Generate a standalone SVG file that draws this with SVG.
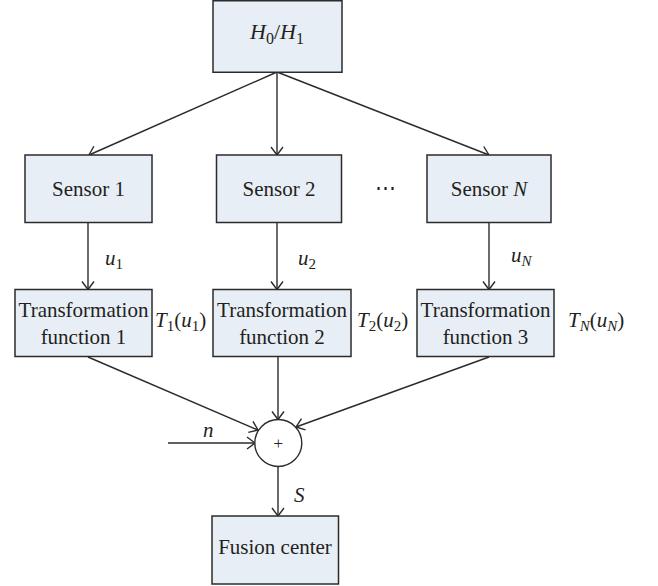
<svg xmlns="http://www.w3.org/2000/svg" width="658" height="586" viewBox="0 0 658 586" font-family="'Liberation Serif', 'Times New Roman', serif">
<defs>
<style>
.box{fill:#e8eef6;stroke:#2b2b2b;stroke-width:1.5}
.ln{fill:none;stroke:#2b2b2b;stroke-width:1.4;marker-end:url(#ah)}
text{font-family:'Liberation Serif','Times New Roman',serif;font-size:21px;fill:#231f20}
.it{font-style:italic}
.sub{font-size:15px;font-style:normal}
.subi{font-size:15px;font-style:italic}
.c{text-anchor:middle}
</style>
<marker id="ah" viewBox="0 0 10 14" refX="9" refY="7" markerWidth="10" markerHeight="14" markerUnits="userSpaceOnUse" orient="auto">
<path d="M1,1 L9,7 L1,13" fill="none" stroke="#2b2b2b" stroke-width="1.4"/>
</marker>
</defs>
<rect width="658" height="586" fill="#ffffff"/>
<g id="connectors">
<line class="ln" x1="277" y1="72" x2="89" y2="155"/>
<line class="ln" x1="277" y1="72" x2="277" y2="155"/>
<line class="ln" x1="277" y1="72" x2="489" y2="155"/>
<line class="ln" x1="88" y1="222" x2="88" y2="289.5"/>
<line class="ln" x1="277" y1="222" x2="277" y2="289.5"/>
<line class="ln" x1="489" y1="222" x2="489" y2="289.5"/>
<line class="ln" x1="88" y1="357" x2="258" y2="430"/>
<line class="ln" x1="278" y1="357" x2="278" y2="419.5"/>
<line class="ln" x1="489" y1="357" x2="296" y2="427"/>
<line class="ln" x1="168" y1="443" x2="255" y2="443"/>
<line class="ln" x1="278" y1="466.5" x2="278" y2="516"/>
</g>
<g id="hyp">
<rect class="box" x="213" y="0.75" width="129" height="71.5"/>
<text x="250" y="39" style="font-size:22px"><tspan class="it">H</tspan><tspan class="sub" style="font-size:16px" dy="5">0</tspan><tspan dy="-5">/</tspan><tspan class="it">H</tspan><tspan class="sub" style="font-size:16px" dy="5">1</tspan></text>
</g>
<g id="sensor1">
<rect class="box" x="25" y="155" width="127" height="67.5"/>
<text class="c" x="88.5" y="196">Sensor 1</text>
</g>
<g id="sensor2">
<rect class="box" x="216.5" y="155" width="125" height="67.5"/>
<text class="c" x="279" y="196">Sensor 2</text>
</g>
<g id="dots">
<text class="c" x="385" y="195">⋯</text>
</g>
<g id="sensorN">
<rect class="box" x="427" y="155" width="124" height="67.5"/>
<text class="c" x="489" y="196">Sensor <tspan class="it">N</tspan></text>
</g>
<g id="labels-u">
<text x="105" y="265"><tspan class="it">u</tspan><tspan class="sub" dy="4">1</tspan></text>
<text x="298" y="265"><tspan class="it">u</tspan><tspan class="sub" dy="4">2</tspan></text>
<text x="511" y="262"><tspan class="it">u</tspan><tspan class="subi" dy="4">N</tspan></text>
</g>
<g id="tf1">
<rect class="box" x="15" y="289.5" width="137" height="67"/>
<text class="c" x="83.5" y="316.5">Transformation</text>
<text class="c" x="83.5" y="343.5">function 1</text>
</g>
<g id="tf2">
<rect class="box" x="213" y="289.5" width="138" height="67"/>
<text class="c" x="282" y="316.5">Transformation</text>
<text class="c" x="282" y="343.5">function 2</text>
</g>
<g id="tf3">
<rect class="box" x="417" y="289.5" width="137" height="67"/>
<text class="c" x="485.5" y="316.5">Transformation</text>
<text class="c" x="485.5" y="343.5">function 3</text>
</g>
<g id="labels-T">
<text x="155" y="327"><tspan class="it">T</tspan><tspan class="sub" dy="4">1</tspan><tspan dy="-4">(</tspan><tspan class="it">u</tspan><tspan class="sub" dy="4">1</tspan><tspan dy="-4">)</tspan></text>
<text x="357" y="327"><tspan class="it">T</tspan><tspan class="sub" dy="4">2</tspan><tspan dy="-4">(</tspan><tspan class="it">u</tspan><tspan class="sub" dy="4">2</tspan><tspan dy="-4">)</tspan></text>
<text x="568" y="327"><tspan class="it">T</tspan><tspan class="subi" dy="4">N</tspan><tspan dy="-4">(</tspan><tspan class="it">u</tspan><tspan class="subi" dy="4">N</tspan><tspan dy="-4">)</tspan></text>
</g>
<g id="sum">
<circle cx="278.3" cy="443" r="23.5" fill="#ffffff" stroke="#2b2b2b" stroke-width="1.4"/>
<text class="c" x="278.3" y="449" style="font-size:17px">+</text>
</g>
<g id="labels-ns">
<text class="it" x="203" y="437">n</text>
<text class="it" x="294" y="502">S</text>
</g>
<g id="fusion">
<rect class="box" x="212" y="516" width="126.5" height="68"/>
<text class="c" x="275" y="554">Fusion center</text>
</g>
</svg>
